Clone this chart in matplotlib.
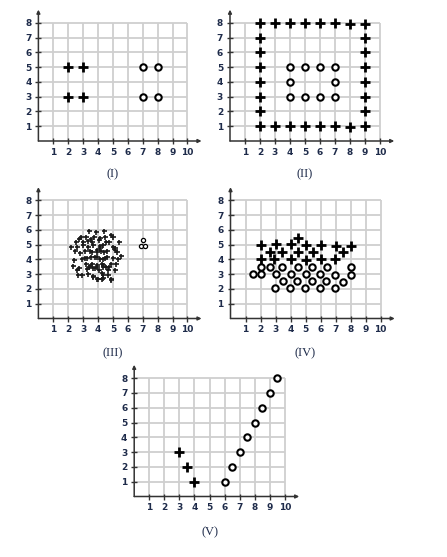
import matplotlib
matplotlib.use("Agg")
import matplotlib.pyplot as plt

# ---- data ----
# panel I
p1_plus_x = [2, 3, 2, 3]
p1_plus_y = [5, 5, 3, 3]
p1_circ_x = [7, 8, 7, 8]
p1_circ_y = [5, 5, 3, 3]

# panel II
p2_plus_x = [2, 3, 4, 5, 6, 7, 8, 9,
             2, 3, 4, 5, 6, 7, 8, 9,
             2, 2, 2, 2, 2, 2,
             9, 9, 9, 9, 9, 9]
p2_plus_y = [8, 8, 8, 8, 8, 8, 7.93, 7.95,
             1.05, 1.05, 1.05, 1.05, 1.05, 1.05, 0.95, 1.0,
             2, 3, 4, 5, 6, 7,
             2, 3, 4, 5, 6, 7]
p2_circ_x = [4, 5, 6, 7, 4, 7, 4, 5, 6, 7]
p2_circ_y = [5, 5, 5, 5, 4, 4, 3, 3, 3, 3]

# panel III
p3_plus_x = [3.40, 3.89, 4.38, 2.70, 2.86, 3.19, 3.51, 3.75, 4.13, 4.47, 4.87, 4.98,
             2.52, 2.97, 3.31, 3.63, 4.05, 4.54, 4.72, 5.43,
             2.19, 2.61, 3.02, 3.35, 3.69, 4.13, 4.36, 4.98, 5.14, 4.13,
             2.48, 2.79, 3.13, 3.46, 3.93, 4.22, 4.63, 5.12, 5.30, 3.57, 3.90, 4.39,
             2.39, 2.90, 3.24, 3.55, 3.96, 4.36, 4.63, 5.03, 5.37, 5.57, 3.12, 3.79, 4.13, 4.46,
             2.30, 2.70, 3.17, 3.58, 3.78, 3.96, 4.36, 4.54, 4.87, 5.23, 3.45, 3.90, 4.30,
             2.61, 3.37, 4.76, 5.14, 3.23, 3.68, 4.08, 4.35, 4.68,
             2.64, 2.93, 3.35, 3.69, 4.36, 4.65, 3.68, 4.30,
             4.00, 4.90, 4.31, 3.90, 4.30, 4.86]
p3_plus_y = [5.95, 5.86, 5.95, 5.41, 5.54, 5.50, 5.41, 5.54, 5.43, 5.54, 5.63, 5.50,
             5.16, 5.18, 5.27, 5.20, 5.30, 5.18, 5.18, 5.18,
             4.87, 4.87, 4.96, 4.84, 4.98, 4.75, 4.96, 4.87, 4.75, 4.91,
             4.55, 4.46, 4.60, 4.60, 4.53, 4.60, 4.55, 4.64, 4.50, 4.53, 4.64, 4.53,
             3.96, 4.05, 4.08, 4.14, 4.14, 4.03, 4.17, 4.08, 4.01, 4.23, 4.07, 4.14, 4.01, 4.07,
             3.56, 3.42, 3.69, 3.67, 3.42, 3.47, 3.60, 3.47, 3.69, 3.69, 3.56, 3.62, 3.69,
             3.29, 3.51, 3.47, 3.31, 3.33, 3.40, 3.28, 3.47, 3.28,
             2.97, 2.97, 2.99, 2.83, 2.92, 2.95, 2.88, 3.06,
             2.65, 2.65, 2.72, 2.65, 2.65, 2.61]
p3_circ_x = [7.0, 6.87, 7.13]
p3_circ_y = [5.3, 4.92, 4.92]

# panel IV
p4_plus_x = [2, 3, 4, 4.5, 5, 6, 7, 8,
             2.6, 3.45, 4.5, 5.5, 7.5,
             2, 2.9, 4, 5, 6, 6.95]
p4_plus_y = [5.0, 5.05, 5.05, 5.45, 5.0, 5.0, 4.9, 4.9,
             4.5, 4.5, 4.5, 4.5, 4.5,
             4.05, 4.05, 4.05, 3.95, 4.05, 4.05]
p4_circ_x = [2, 2.6, 3.45, 4.5, 5.45, 6.4, 8,
             1.5, 2, 3, 4, 5, 5.95, 6.95, 8,
             3.5, 4.45, 5.4, 6.35, 7.5,
             2.95, 3.95, 4.95, 5.95, 6.95]
p4_circ_y = [3.5, 3.5, 3.5, 3.5, 3.5, 3.5, 3.5,
             3.0, 3.0, 3.0, 3.0, 3.0, 3.0, 2.95, 2.95,
             2.55, 2.55, 2.55, 2.55, 2.5,
             2.05, 2.05, 2.05, 2.05, 2.05]

# panel V
p5_plus_x = [3, 3.5, 4]
p5_plus_y = [3, 2, 1]
p5_circ_x = [6, 6.5, 7, 7.5, 8, 8.5, 9, 9.5]
p5_circ_y = [1, 2, 3, 4, 5, 6, 7, 8]

labels = ['(I)', '(II)', '(III)', '(IV)', '(V)']

ink = '#1e2b4a'
W, H = 447, 557


def panel(x0, y0, ux, uy, label, ly):
    # x0, y0: pixel position of the origin; ux, uy: pixels per unit
    ax = fig.add_axes([x0 / W, (H - y0) / H, 11.2 * ux / W, 9.1 * uy / H])
    ax.set_xlim(0, 11.2)
    ax.set_ylim(0, 9.1)
    for s in ax.spines.values():
        s.set_visible(False)
    ax.vlines(range(1, 11), 0, 8, color='#cfcfcf', lw=1.3, zorder=1)
    ax.hlines(range(1, 9), 0, 10, color='#cfcfcf', lw=1.3, zorder=1)
    arrow = dict(arrowstyle='-|>', lw=1.1, color='#333333', mutation_scale=5,
                 shrinkA=0, shrinkB=0)
    ax.annotate('', xy=(10.95, 0), xytext=(0, 0), arrowprops=arrow, annotation_clip=False)
    ax.annotate('', xy=(0, 8.9), xytext=(0, 0), arrowprops=arrow, annotation_clip=False)
    ax.set_xticks(range(1, 11))
    ax.set_yticks(range(1, 9))
    ax.tick_params(direction='inout', length=4, width=1, color='#333333',
                   labelsize=6.5, labelcolor=ink, pad=3)
    for t in ax.get_xticklabels() + ax.get_yticklabels():
        t.set_fontweight('bold')
    ax.text(5, ly, label, ha='center', va='center', fontsize=9,
            family='Liberation Serif', color=ink, clip_on=False)
    return ax


fig = plt.figure(figsize=(4.47, 5.57), dpi=100)

big_plus = dict(ls='none', marker='+', ms=7, mew=2.0, color='black', zorder=3)
big_circ = dict(ls='none', marker='o', ms=4.6, mew=1.5, mec='black', mfc='white', zorder=3)

ax1 = panel(38.4, 141, 14.9, 14.76, labels[0], -2.25)
ax1.plot(p1_plus_x, p1_plus_y, **big_plus)
ax1.plot(p1_circ_x, p1_circ_y, **big_circ)

ax2 = panel(230, 141, 15.0, 14.76, labels[1], -2.25)
ax2.plot(p2_plus_x, p2_plus_y, **big_plus)
ax2.plot(p2_circ_x, p2_circ_y, **big_circ)

ax3 = panel(38.4, 318.5, 14.9, 14.76, labels[2], -2.35)
ax3.plot(p3_plus_x, p3_plus_y, ls='none', marker='+', ms=3.6, mew=1.2,
         color='#1a1a1a', zorder=3)
ax3.plot(p3_circ_x, p3_circ_y, ls='none', marker='o', ms=3, mew=0.9,
         mec='black', mfc='white', zorder=3)

ax4 = panel(230.5, 318.5, 15.0, 14.76, labels[3], -2.35)
ax4.plot(p4_plus_x, p4_plus_y, **big_plus)
ax4.plot(p4_circ_x, p4_circ_y, **big_circ)

ax5 = panel(134.2, 496.5, 15.07, 14.8, labels[4], -2.4)
ax5.plot(p5_plus_x, p5_plus_y, **big_plus)
ax5.plot(p5_circ_x, p5_circ_y, **big_circ)

fig.savefig('out.png', dpi=100)
